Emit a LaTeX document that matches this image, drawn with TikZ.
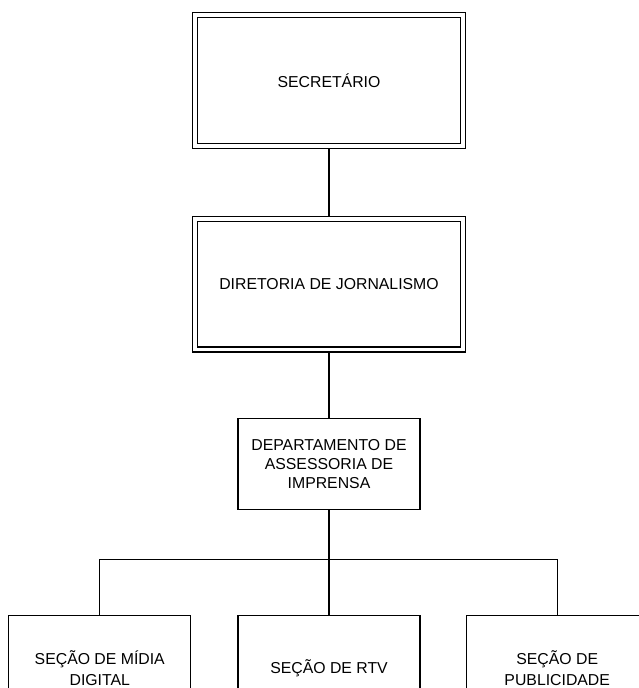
\documentclass[tikz,border=0pt]{standalone}
\usepackage{fontspec}
\setmainfont{Liberation Sans}
\usetikzlibrary{positioning,calc}
\tikzset{cargo/.style={draw, line width=0.8pt, double, double distance=2pt, outer sep=1.8pt, inner sep=0pt, minimum width=5.35cm, minimum height=2.61cm, align=center, font=\fontsize{9}{10.8}\selectfont}}
\tikzset{depto/.style={draw, line width=0.7pt, inner sep=0pt, minimum width=3.64cm, minimum height=1.82cm, align=center, font=\fontsize{9}{10.8}\selectfont}}
\tikzset{secao/.style={depto, minimum height=2.1cm, font=\fontsize{9}{12.4}\selectfont}}
\tikzset{liga/.style={draw, line width=0.8pt}}

\begin{document}
\begin{tikzpicture}
			\useasboundingbox (0,0) rectangle (12.78,-13.76);
			\clip (0,0) rectangle (12.78,-13.76);
			\node[cargo] (sec) at (6.58,-1.61) {SECRETÁRIO};
			\node[cargo,below=1.34 of sec] (dir) {DIRETORIA DE JORNALISMO};
			\node[depto,below=1.3 of dir] (dept) {DEPARTAMENTO DE\\ASSESSORIA DE\\IMPRENSA};
%
			\node[secao,below=2.1 of dept] (rtv) {SEÇÃO DE RTV};
			\node[secao,left=0.92 of rtv] (midia) {SEÇÃO DE MÍDIA\\DIGITAL};
			\node[secao,right=0.9 of rtv] (pub) {SEÇÃO DE\\PUBLICIDADE};
			\coordinate (bar) at ($ (dept.south)!.47!(rtv.north) $);
%
			\draw[liga] (sec) -- (dir);
			\draw[liga] (dir) -- (dept);
			\draw[liga] (dept) -- (rtv);
			\draw[liga] (midia.north) |- (bar) -| (pub.north);
		\end{tikzpicture}
\end{document}
